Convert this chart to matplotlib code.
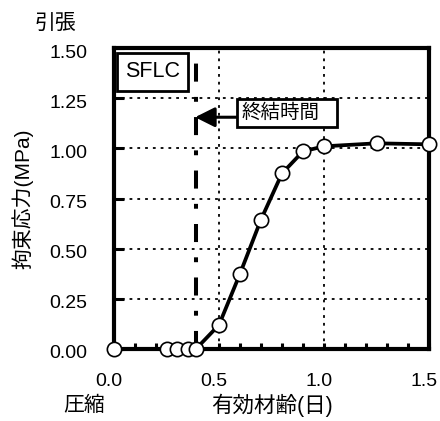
import matplotlib
matplotlib.use("Agg")
import matplotlib.pyplot as plt
from matplotlib.patches import Rectangle
from matplotlib.ticker import MultipleLocator, FixedLocator
from matplotlib.transforms import ScaledTranslation

plt.rcParams['font.family'] = ['Liberation Sans', 'Noto Sans CJK JP']
plt.rcParams['lines.scale_dashes'] = False

# Restrained stress vs effective age (SFLC)
age_days = [0.0, 0.25, 0.30, 0.35, 0.39, 0.50, 0.60, 0.70, 0.80, 0.90, 1.00, 1.25, 1.50]
stress_mpa = [0.0, 0.0, 0.0, 0.0, 0.0, 0.12, 0.375, 0.645, 0.875, 0.985, 1.01, 1.025, 1.02]

final_set_age = 0.39
x_ticks = [0.0, 0.5, 1.0, 1.5]
x_tick_labels = ["0.0", "0.5", "1.0", "1.5"]
y_ticks = [0.0, 0.25, 0.50, 0.75, 1.00, 1.25, 1.50]
y_tick_labels = ["0.00", "0.25", "0.50", "0.75", "1.00", "1.25", "1.50"]

W, H = 440, 421
fig = plt.figure(figsize=(W / 100, H / 100), dpi=100)
ax = fig.add_axes([114 / W, 1 - 349 / H, (429 - 114) / W, (349 - 48) / H])

ax.set_xlim(0, 1.5)
ax.set_ylim(0, 1.5)

# grid (dotted) at interior positions only
for gx in [0.5, 1.0]:
    ax.axvline(gx, color='k', lw=1.3, linestyle=(0, (2.0, 3.6)), zorder=1)
for gy in [0.25, 0.5, 0.75, 1.0, 1.25]:
    ax.axhline(gy, color='k', lw=1.3, linestyle=(0, (2.0, 3.6)), zorder=1)

# final setting time marker
ax.axvline(final_set_age, color='k', lw=2.9, linestyle=(0, (13, 11, 3.5, 11)),
           solid_capstyle='butt', dash_capstyle='butt', zorder=2)

# data
ax.plot(age_days, stress_mpa, color='k', lw=2.7, marker='o', markersize=10.3,
        markerfacecolor='white', markeredgecolor='k', markeredgewidth=1.2,
        clip_on=False, zorder=5)

# spines
for s in ax.spines.values():
    s.set_linewidth(3.0)
    s.set_zorder(4)

# ticks
ax.xaxis.set_major_locator(FixedLocator(x_ticks))
ax.set_xticklabels(x_tick_labels)
ax.xaxis.set_minor_locator(MultipleLocator(0.1))
ax.yaxis.set_major_locator(FixedLocator(y_ticks))
ax.set_yticklabels(y_tick_labels)
ax.tick_params(axis='x', which='both', direction='in', length=4.5, width=2.2,
               pad=17, labelsize=14, top=False)
ax.tick_params(axis='y', which='major', direction='in', length=7, width=2.2,
               pad=19, labelsize=14, right=False)

for lab in ax.get_xticklabels():
    lab.set_transform(lab.get_transform() + ScaledTranslation(-5 / 100, 0, fig.dpi_scale_trans))
for lab in ax.get_yticklabels():
    lab.set_transform(lab.get_transform() + ScaledTranslation(0, -3 / 100, fig.dpi_scale_trans))

# SFLC label box
ax.add_patch(Rectangle((0.014, 1.287), 0.338, 0.188, facecolor='white',
                       edgecolor='k', lw=2.0, zorder=6))
ax.text(0.183, 1.381, "SFLC", ha='center', va='center', fontsize=15.5, zorder=7)

# final setting annotation
ax.add_patch(Rectangle((0.584, 1.106), 0.476, 0.140, facecolor='white',
                       edgecolor='k', lw=2.0, zorder=6))
ax.text(0.607, 1.176, "終結時間", ha='left', va='center', fontsize=14, zorder=7)
ax.annotate("", xy=(0.386, 1.155), xytext=(0.584, 1.155),
            arrowprops=dict(arrowstyle="-|>,head_length=1.2,head_width=0.6",
                            mutation_scale=10, lw=2.2, color='k',
                            shrinkA=0, shrinkB=0), zorder=6)

# axis labels
ax.set_xlabel("有効材齢(日)", fontsize=15.5, va='center')
ax.xaxis.set_label_coords(0.5, (349 - 405) / 301)
ax.set_ylabel("拘束応力(MPa)", fontsize=15, va='center')
ax.yaxis.set_label_coords((23 - 114) / 315, 0.5)

fig.text(55 / W, 1 - 23 / H, "引張", ha='center', va='center', fontsize=15)
fig.text(84 / W, 1 - 405 / H, "圧縮", ha='center', va='center', fontsize=15)

fig.savefig("out.png", dpi=100)
